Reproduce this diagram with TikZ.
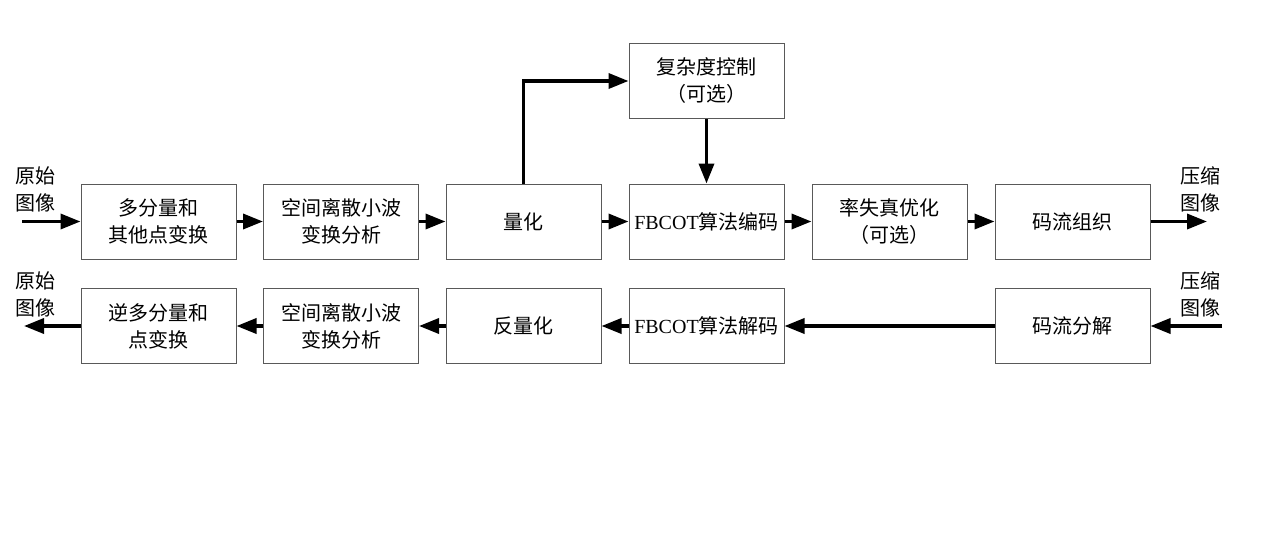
\documentclass[tikz,border=0pt]{standalone}
\usepackage{fontspec}
\setmainfont{Liberation Serif}
\newfontfamily\cjk{Noto Sans CJK SC}
\usetikzlibrary{arrows.meta}
\begin{document}
\begin{tikzpicture}[x=1pt,y=-1pt,
  blk/.style={draw=black!65,line width=1pt,minimum width=155pt,minimum height=75pt,inner sep=0pt,align=center,font=\fontsize{20}{27}\selectfont\cjk},
  lab/.style={align=left,inner sep=0pt,font=\fontsize{20}{27}\selectfont\cjk},
  arr/.style={line width=3.5pt,-{Triangle[length=20pt,width=15pt]}}]
\useasboundingbox (0,0) rectangle (1280,543);
% top row
\node[blk] (a1) at (158.5,221.5) {多分量和\\其他点变换};
\node[blk] (a2) at (341,221.5) {空间离散小波\\变换分析};
\node[blk] (a3) at (523.5,221.5) {量化};
\node[blk] (a4) at (706.5,221.5) {{\rmfamily FBCOT}算法编码};
\node[blk] (a5) at (889.5,221.5) {率失真优化\\（可选）};
\node[blk] (a6) at (1072.5,221.5) {码流组织};
\node[blk] (c) at (706.5,81) {复杂度控制\\（可选）};
% bottom row
\node[blk] (b1) at (158.5,326) {逆多分量和\\点变换};
\node[blk] (b2) at (341,326) {空间离散小波\\变换分析};
\node[blk] (b3) at (523.5,326) {反量化};
\node[blk] (b4) at (706.5,326) {{\rmfamily FBCOT}算法解码};
\node[blk] (b6) at (1072.5,326) {码流分解};
% labels
\node[lab] (l1) at (35,189) {原始\\图像};
\node[lab] (l2) at (35,294) {原始\\图像};
\node[lab] (r1) at (1200,189) {压缩\\图像};
\node[lab] (r2) at (1200,294) {压缩\\图像};
\coordinate (inA) at (22,221.5);
\coordinate (outA) at (1207,221.5);
\coordinate (inB) at (1222,326);
\coordinate (outB) at (24,326);
% arrows
\draw[arr] (inA) -- (a1.west);
\draw[arr] (a1) -- (a2);
\draw[arr] (a2) -- (a3);
\draw[arr] (a3) -- (a4);
\draw[arr] (a4) -- (a5);
\draw[arr] (a5) -- (a6);
\draw[arr] (a6.east) -- (outA);
\draw[arr] (a3.north) |- (c.west);
\draw[arr] (c.south) -- (a4.north);
\draw[arr] (inB) -- (b6.east);
\draw[arr] (b6) -- (b4);
\draw[arr] (b4) -- (b3);
\draw[arr] (b3) -- (b2);
\draw[arr] (b2) -- (b1);
\draw[arr] (b1.west) -- (outB);
\end{tikzpicture}
\end{document}
